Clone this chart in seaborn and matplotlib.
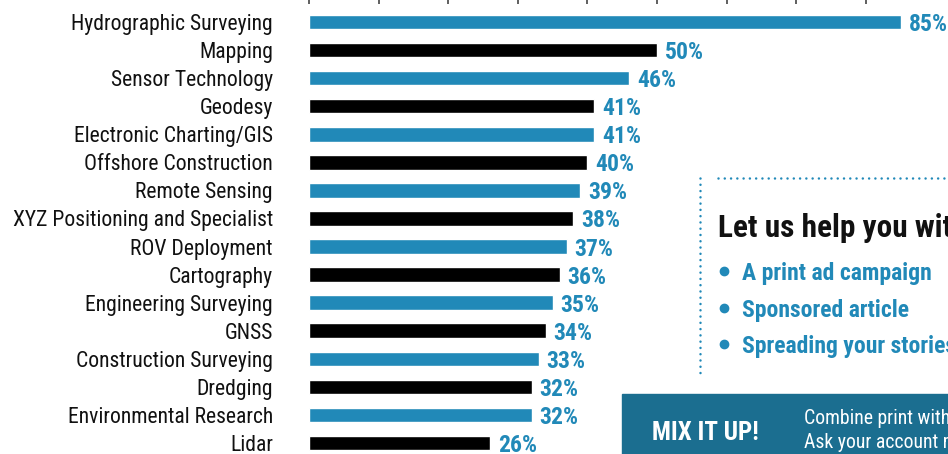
import matplotlib
matplotlib.use("Agg")
import matplotlib.pyplot as plt
import seaborn as sns
import pandas as pd
from matplotlib.lines import Line2D
from matplotlib.patches import Rectangle

categories = ["Hydrographic Surveying", "Mapping", "Sensor Technology", "Geodesy",
              "Electronic Charting/GIS", "Offshore Construction", "Remote Sensing",
              "XYZ Positioning and Specialist", "ROV Deployment", "Cartography",
              "Engineering Surveying", "GNSS", "Construction Surveying", "Dredging",
              "Environmental Research", "Lidar"]
values = [85, 50, 46, 41, 41, 40, 39, 38, 37, 36, 35, 34, 33, 32, 32, 26]
tick_values = [0, 10, 20, 30, 40, 50, 60, 70, 80]
bullets = ["A print ad campaign", "Sponsored article", "Spreading your stories"]

BLUE = "#2189b8"
BLACK = "#000000"
DARK = "#1b6e90"
W, H = 948, 454

sns.set_theme(style="white")
FONTS = ['Roboto Condensed', 'Barlow Condensed', 'Liberation Sans Narrow', 'DejaVu Sans']
plt.rcParams['font.family'] = FONTS

fig = plt.figure(figsize=(W / 100, H / 100), dpi=100)
ax = fig.add_axes([309 / W, 0, (W - 309) / W, (H - 4) / H])

df = pd.DataFrame({"category": categories, "value": values})
palette = [BLUE if i % 2 == 0 else BLACK for i in range(len(categories))]
sns.barplot(data=df, x="value", y="category", hue="category", palette=palette,
            width=0.52, legend=False, saturation=1, ax=ax)

px_per = 6.96
ax.set_xlim(0, (W - 309) / px_per)
ax.set_ylim(15.39, -0.64)
for s in ax.spines.values():
    s.set_visible(False)
ax.xaxis.tick_top()
ax.set_xticks(tick_values)
ax.tick_params(axis="x", length=4, width=1.2, color="#444444", labeltop=False, top=True, direction="out")
ax.tick_params(axis="y", length=0, pad=26, labelsize=15.6, labelcolor="#111111")
ax.set_xlabel("")
ax.set_ylabel("")

for i, v in enumerate(values):
    ax.text(v + 8 / px_per, i, f"{v}%", va="center_baseline", ha="left",
            color=BLUE, fontweight="bold", fontsize=17)

def fx(x):
    return x / W

def fy(y):
    return 1 - y / H

# dotted border
dot = dict(color=BLUE, linewidth=1.8, linestyle=(0, (0.01, 2.5)), dash_capstyle="round",
           transform=fig.transFigure)
fig.add_artist(Line2D([fx(718), fx(W + 5)], [fy(178), fy(178)], **dot))
fig.add_artist(Line2D([fx(700), fx(700)], [fy(178), fy(376)], **dot))

fig.text(fx(718), fy(237), "Let us help you with:", color="#111111", fontweight="bold",
         fontsize=22.5, va="baseline", ha="left")
for k, (b, base) in enumerate(zip(bullets, [280, 317, 353])):
    fig.add_artist(Line2D([fx(724)], [fy(base - 9)], marker="o", markersize=6,
                          color=BLUE, transform=fig.transFigure))
    fig.text(fx(742), fy(base), b, color=BLUE, fontweight="bold", fontsize=17,
             va="baseline", ha="left")

fig.add_artist(Rectangle((fx(622), 0), 1, (H - 394) / H, transform=fig.transFigure,
                         color=DARK, zorder=5))
fig.text(fx(652), fy(440), "MIX IT UP!", color="white", fontweight="bold", fontsize=18,
         va="baseline", ha="left", zorder=6)
fig.text(fx(804), fy(424), "Combine print with online", color="white", fontsize=14.2,
         va="baseline", ha="left", zorder=6)
fig.text(fx(804), fy(448), "Ask your account manager", color="white", fontsize=14.2,
         va="baseline", ha="left", zorder=6)

fig.savefig("out.png", dpi=100)
